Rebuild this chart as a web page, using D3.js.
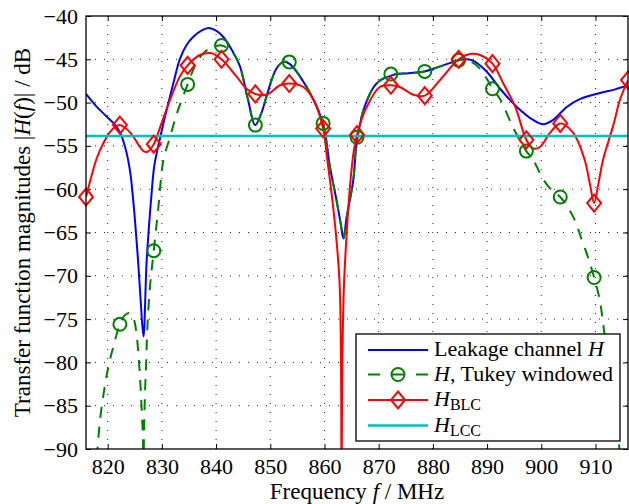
<!DOCTYPE html>
<html>
<head>
<meta charset="utf-8">
<script src="https://cdn.jsdelivr.net/npm/d3@7"></script>
<style>
  body { margin: 0; background: #fff; }
  svg { display: block; font-family: "Liberation Serif", "Times New Roman", serif; }
</style>
</head>
<body>
<svg id="chart" width="629" height="504"></svg>
<script>
// Leakage channel H (blue)
const leakFreq = [816, 818, 819.8, 821.4, 822.3, 823.2, 824.1, 824.7, 825.6, 826.1, 826.6, 827.2, 828.1, 828.6, 829.7,
    830.9, 832.1, 833.3, 834.5, 835.8, 837.3, 838.7, 840, 841.3, 842.8, 844.4, 845.9, 847.2, 848.3, 849.3,
    850.3, 851.2, 852.4, 853.5, 855.5, 858, 859.8, 861, 862.2, 863, 863.5, 864.1, 865.3, 866, 867.5,
    869.6, 872.7, 875.5, 878.4, 881.9, 885.6, 887.2, 889.9, 892.4, 895.5, 898.5, 900.4, 902.2, 904.7,
    907.1, 910.8, 913.5, 916];
const leakVals = [-49.0, -50.5, -51.6, -52.6, -53.5, -55.1, -57.8, -61.2, -68.2, -73.0, -77.0, -68.2, -60.5, -57.3, -54.0,
    -50.8, -47.8, -45.0, -43.4, -42.4, -41.7, -41.4, -41.7, -42.4, -43.8, -45.8, -49.7, -52.6, -51.3, -49.3,
    -47.3, -46.0, -45.3, -45.5, -47.0, -49.7, -52.6, -57.4, -61.2, -64.0, -65.7, -63.2, -59.0, -54.4, -50.3,
    -47.8, -46.8, -46.6, -46.4, -45.7, -45.0, -45.1, -46.4, -48.4, -50.5, -52.0, -52.5, -52.0, -50.5,
    -49.6, -48.9, -48.5, -48.0];

// H, Tukey windowed (green dashed)
const tukeyFreq = [818, 818.6, 819.4, 820.2, 821.2, 822.25, 823.1, 824, 824.8, 825.3, 825.8, 826.1, 826.3, 826.5, 826.6,
    826.7, 826.9, 827.1, 827.3, 827.8, 828.5, 829.3, 830.3, 831.5, 832.4, 833.3, 834.75, 836.3, 837.8,
    839.4, 841, 842.3, 843.5, 844.4, 845.9, 847.25, 848.3, 849.3, 850.3, 851.2, 852.4, 853.5, 855.5, 858,
    859.75, 861, 862.2, 863, 863.5, 864.1, 865.3, 866, 867.5, 869.6, 872.25, 875.5, 878.5, 881.9, 884.75,
    886.5, 888.4, 890, 891, 892.4, 894.9, 897.25, 898.5, 900.4, 902.2, 903.5, 905.9, 907.5, 908.8,
    909.75, 910.8, 911.4, 912.8, 914.3, 914.8];
const tukeyVals = [-91.0, -86.6, -83.0, -80.3, -77.8, -75.6, -74.6, -74.3, -75.0, -76.6, -80.1, -83.2, -85.9, -88.6, -93.0,
    -88.2, -83.2, -80.1, -76.3, -71.3, -67.1, -62.4, -56.6, -54.0, -52.0, -50.3, -47.9, -45.5, -44.2,
    -43.6, -43.4, -43.8, -44.6, -45.8, -49.7, -52.6, -51.3, -49.3, -47.3, -46.0, -45.3, -45.4, -47.0, -49.7,
    -52.5, -57.4, -61.2, -64.0, -65.7, -63.2, -59.0, -54.2, -50.3, -47.8, -46.8, -46.6, -46.4, -45.7, -45.1,
    -45.1, -45.9, -47.3, -48.4, -49.6, -53.0, -55.6, -56.6, -58.9, -60.3, -60.9, -63.2, -65.9, -68.2,
    -70.2, -72.8, -75.5, -82.0, -89.3, -92.0];

// H_BLC (red)
const blcFreq = [816, 817, 818, 819.2, 820.4, 821.4, 822.25, 823.4, 824.7, 825.8, 826.6, 827.3, 828.5, 829.7, 831.5,
    833.3, 834.75, 837, 839.2, 841, 843.8, 845.6, 847.25, 849.3, 851.8, 853.5, 856.1, 858, 859.75, 860.5,
    861.5, 862.3, 862.8, 863.05, 863.15, 863.3, 863.6, 864.1, 864.7, 865.4, 866, 867.8, 870.2, 872.25,
    873.9, 876.4, 878.5, 881.3, 884.75, 886.8, 888.7, 891, 893, 895.2, 897.25, 898.5, 899.8, 901.6, 903.5,
    905.9, 908, 909, 909.75, 910.5, 911.4, 913.3, 914.5, 916];
const blcVals = [-60.9, -58.5, -56.4, -54.7, -53.4, -52.8, -52.6, -53.0, -53.9, -55.0, -55.6, -55.7, -54.8, -52.8, -49.7,
    -47.0, -45.7, -44.5, -44.3, -45.0, -47.0, -48.4, -49.0, -49.1, -48.0, -47.8, -48.2, -49.7, -53.0, -56.5,
    -61.5, -66.5, -71.0, -80.0, -95.0, -80.0, -71.0, -65.1, -59.7, -55.6, -53.7, -50.5, -48.2, -48.0,
    -48.2, -49.1, -49.2, -47.4, -45.0, -44.4, -44.5, -45.5, -47.8, -50.5, -54.3, -55.3, -55.1, -53.5, -52.4,
    -53.5, -56.6, -59.5, -61.6, -59.5, -56.6, -52.6, -49.7, -47.4];

// H_LCC (cyan, constant)
const lccValue = -53.85;

// marker positions (every 6.25 MHz)
const markerFreq = [816, 822.25, 828.5, 834.75, 841, 847.25, 853.5, 859.75, 866, 872.25, 878.5, 884.75, 891, 897.25, 903.5, 909.75, 916];
const tukeyMarkers = [null, -75.6, -67.1, -47.9, -43.4, -52.6, -45.3, -52.4, -54.0, -46.7, -46.4, -45.1, -48.4, -55.6, -60.9, -70.2, null];
const blcMarkers = [-60.9, -52.6, -54.8, -45.7, -45.0, -49.0, -47.8, -53.0, -53.7, -48.0, -49.2, -45.0, -45.5, -54.3, -52.4, -61.6, -47.4];

const xTicks = [820, 830, 840, 850, 860, 870, 880, 890, 900, 910];
const yTicks = [-90, -85, -80, -75, -70, -65, -60, -55, -50, -45, -40];

const width = 629, height = 504;
const margin = { top: 16, right: 1, bottom: 55, left: 86 };
const plotW = width - margin.left - margin.right;
const plotH = height - margin.top - margin.bottom;

const svg = d3.select('#chart');
const g = svg.append('g').attr('transform', `translate(${margin.left},${margin.top})`);

const x = d3.scaleLinear().domain([816, 916]).range([0, plotW]);
const y = d3.scaleLinear().domain([-90, -40]).range([plotH, 0]);

// clip for the curves
svg.append('defs').append('clipPath').attr('id', 'plotClip')
    .append('rect').attr('width', plotW).attr('height', plotH);

// dotted grid
g.append('g').selectAll('line').data(xTicks).join('line')
    .attr('x1', d => x(d)).attr('x2', d => x(d))
    .attr('y1', 0).attr('y2', plotH)
    .attr('stroke', '#222').attr('stroke-width', 1).attr('stroke-dasharray', '1,8');
g.append('g').selectAll('line').data(yTicks.slice(1, -1)).join('line')
    .attr('x1', 0).attr('x2', plotW)
    .attr('y1', d => y(d)).attr('y2', d => y(d))
    .attr('stroke', '#222').attr('stroke-width', 1).attr('stroke-dasharray', '1,8');

// axes with inward ticks on all four sides
const tick = 5;
g.append('g').attr('transform', `translate(0,${plotH})`)
    .call(d3.axisBottom(x).tickValues(xTicks).tickSizeInner(-tick).tickSizeOuter(0).tickPadding(9))
    .call(a => a.select('.domain').remove());
g.append('g').call(d3.axisTop(x).tickValues(xTicks).tickSizeInner(-tick).tickSizeOuter(0).tickFormat(''))
    .call(a => a.select('.domain').remove());
g.append('g').call(d3.axisLeft(y).tickValues(yTicks).tickSizeInner(-tick).tickSizeOuter(0).tickPadding(8))
    .call(a => a.select('.domain').remove());
g.append('g').attr('transform', `translate(${plotW},0)`)
    .call(d3.axisRight(y).tickValues(yTicks).tickSizeInner(-tick).tickSizeOuter(0).tickFormat(''))
    .call(a => a.select('.domain').remove());

g.selectAll('.tick line').attr('stroke', '#000').attr('stroke-width', 1);
g.selectAll('.tick text')
    .attr('fill', '#000')
    .style('font-family', '"Liberation Serif", "Times New Roman", serif')
    .style('font-size', '22px');

// curves
const curve = d3.curveCatmullRom.alpha(0.5);
const lineGen = d3.line().x(d => x(d[0])).y(d => y(d[1])).curve(curve);
const plot = g.append('g').attr('clip-path', 'url(#plotClip)');

const blue = '#0000ff', green = '#008000', red = '#ff0000', cyan = '#00bfbf';

plot.append('path').datum(d3.zip(leakFreq, leakVals))
    .attr('d', lineGen).attr('fill', 'none').attr('stroke', blue).attr('stroke-width', 2);
plot.append('path').datum(d3.zip(tukeyFreq, tukeyVals))
    .attr('d', lineGen).attr('fill', 'none').attr('stroke', green).attr('stroke-width', 2)
    .attr('stroke-dasharray', '11,9');
plot.append('path').datum(d3.zip(blcFreq, blcVals))
    .attr('d', lineGen).attr('fill', 'none').attr('stroke', red).attr('stroke-width', 2);

// markers (not clipped)
const tukeyPts = d3.zip(markerFreq, tukeyMarkers).filter(d => d[1] !== null);
g.append('g').selectAll('circle').data(tukeyPts).join('circle')
    .attr('cx', d => x(d[0])).attr('cy', d => y(d[1])).attr('r', 6.5)
    .attr('fill', 'none').attr('stroke', green).attr('stroke-width', 2);

const diamond = 'M0,-8.5L7,0L0,8.5L-7,0Z';
g.append('g').selectAll('path').data(d3.zip(markerFreq, blcMarkers)).join('path')
    .attr('transform', d => `translate(${x(d[0])},${y(d[1])})`)
    .attr('d', diamond).attr('fill', 'none').attr('stroke', red).attr('stroke-width', 2);

// constant H_LCC
plot.append('line')
    .attr('x1', 0).attr('x2', plotW)
    .attr('y1', y(lccValue)).attr('y2', y(lccValue))
    .attr('stroke', cyan).attr('stroke-width', 2.5);

// frame
g.append('rect').attr('width', plotW).attr('height', plotH)
    .attr('fill', 'none').attr('stroke', '#000').attr('stroke-width', 1.3);

// axis labels
const xLabel = svg.append('text')
    .attr('x', margin.left + plotW / 2).attr('y', 499)
    .attr('text-anchor', 'middle').style('font-size', '23px');
xLabel.append('tspan').text('Frequency ');
xLabel.append('tspan').style('font-style', 'italic').text('f');
xLabel.append('tspan').text(' / MHz');

const yLabel = svg.append('text')
    .attr('transform', `translate(30,${margin.top + plotH / 2}) rotate(-90)`)
    .attr('text-anchor', 'middle').style('font-size', '23px');
yLabel.append('tspan').text('Transfer function magnitudes |');
yLabel.append('tspan').style('font-style', 'italic').text('H');
yLabel.append('tspan').text('(');
yLabel.append('tspan').style('font-style', 'italic').text('f');
yLabel.append('tspan').text(')| / dB');

// legend
const legend = svg.append('g');
legend.append('rect')
    .attr('x', 356).attr('y', 334).attr('width', 264).attr('height', 107)
    .attr('fill', '#fff').attr('stroke', '#000').attr('stroke-width', 1.3);

const rows = [350, 374.5, 400, 425.5];
const lx0 = 368, lx1 = 428, lmid = 398, tx = 434;

legend.append('line').attr('x1', lx0).attr('x2', lx1).attr('y1', rows[0]).attr('y2', rows[0])
    .attr('stroke', blue).attr('stroke-width', 2);
legend.append('line').attr('x1', lx0).attr('x2', lx1).attr('y1', rows[1]).attr('y2', rows[1])
    .attr('stroke', green).attr('stroke-width', 2).attr('stroke-dasharray', '12,12');
legend.append('circle').attr('cx', lmid).attr('cy', rows[1]).attr('r', 6.5)
    .attr('fill', 'none').attr('stroke', green).attr('stroke-width', 2);
legend.append('line').attr('x1', lx0).attr('x2', lx1).attr('y1', rows[2]).attr('y2', rows[2])
    .attr('stroke', red).attr('stroke-width', 2);
legend.append('path').attr('transform', `translate(${lmid},${rows[2]})`)
    .attr('d', diamond).attr('fill', 'none').attr('stroke', red).attr('stroke-width', 2);
legend.append('line').attr('x1', lx0).attr('x2', lx1).attr('y1', rows[3]).attr('y2', rows[3])
    .attr('stroke', cyan).attr('stroke-width', 2.5);

const fs = '22px';
const t0 = legend.append('text').attr('x', tx).attr('y', rows[0] + 6).style('font-size', fs);
t0.append('tspan').text('Leakage channel ');
t0.append('tspan').style('font-style', 'italic').text('H');

const t1 = legend.append('text').attr('x', tx).attr('y', rows[1] + 6).style('font-size', fs);
t1.append('tspan').style('font-style', 'italic').text('H');
t1.append('tspan').text(', Tukey windowed');

const t2 = legend.append('text').attr('x', tx).attr('y', rows[2] + 6).style('font-size', fs);
t2.append('tspan').style('font-style', 'italic').text('H');
t2.append('tspan').attr('dy', 4).style('font-size', '16px').text('BLC');

const t3 = legend.append('text').attr('x', tx).attr('y', rows[3] + 6).style('font-size', fs);
t3.append('tspan').style('font-style', 'italic').text('H');
t3.append('tspan').attr('dy', 4).style('font-size', '16px').text('LCC');
</script>
</body>
</html>
